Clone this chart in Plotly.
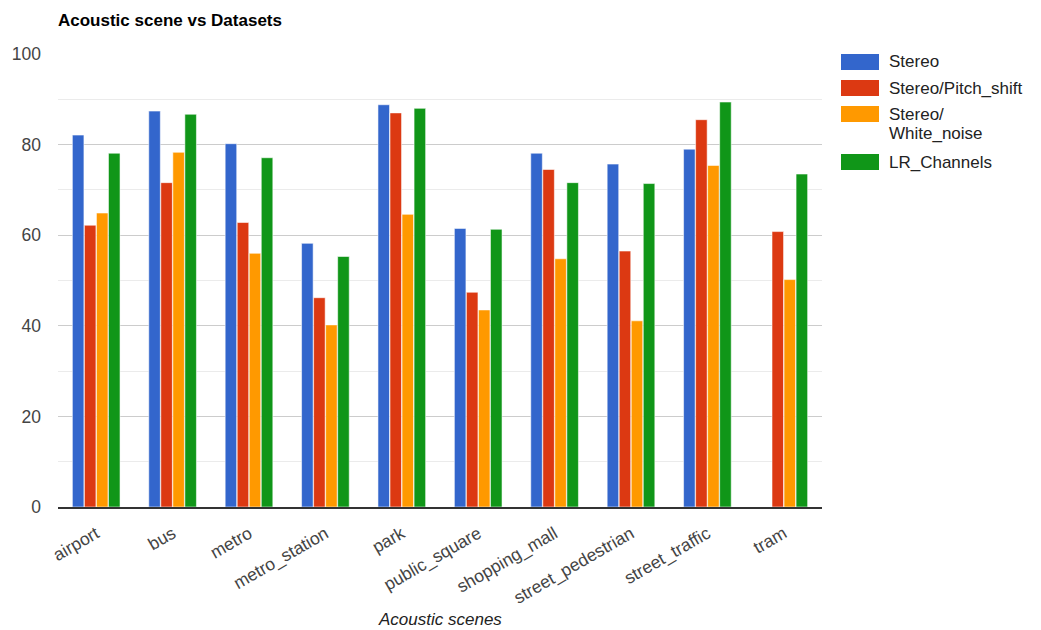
import plotly.graph_objects as go

# Accuracy (%) per acoustic scene for each dataset variant
scenes = ["airport", "bus", "metro", "metro_station", "park", "public_square",
          "shopping_mall", "street_pedestrian", "street_traffic", "tram"]
stereo = [82.1, 87.4, 80.2, 58.2, 88.8, 61.5, 78.1, 75.7, 79.0, None]
pitch_shift = [62.2, 71.6, 62.8, 46.2, 87.0, 47.4, 74.5, 56.5, 85.5, 60.8]
white_noise = [64.9, 78.3, 56.0, 40.2, 64.6, 43.5, 54.8, 41.1, 75.4, 50.2]
lr_channels = [78.1, 86.7, 77.1, 55.3, 88.0, 61.3, 71.6, 71.4, 89.4, 73.5]

series_names = ["Stereo", "Stereo/Pitch_shift", "Stereo/White_noise", "LR_Channels"]
legend_lines = [["Stereo"], ["Stereo/Pitch_shift"], ["Stereo/", "White_noise"], ["LR_Channels"]]
colors = ["#3366cc", "#dc3912", "#ff9900", "#109618"]
series_values = [stereo, pitch_shift, white_noise, lr_channels]

W, H = 1041, 630
L, R, T, B = 58, 822, 54, 507  # plot area in pixels

def px_x(px):
    return (px - L) / (R - L)

def px_y(py):
    return (B - py) / (B - T)

FONT = "Liberation Sans, Arial, sans-serif"

fig = go.Figure()
for name, vals, col in zip(series_names, series_values, colors):
    fig.add_trace(go.Bar(
        x=scenes, y=vals, name=name,
        marker=dict(color=col, line=dict(color="rgba(255,255,255,0.55)", width=1)),
        showlegend=False,
    ))

# Custom legend: wide swatches with labels on the right
shapes = []
annotations = []
swatch_tops = [54, 80, 106, 154]
for lines, col, top in zip(legend_lines, colors, swatch_tops):
    shapes.append(dict(type="rect", xref="paper", yref="paper",
                       x0=px_x(841), x1=px_x(879), y0=px_y(top + 16), y1=px_y(top),
                       fillcolor=col, line=dict(width=0)))
    for i, txt in enumerate(lines):
        annotations.append(dict(xref="paper", yref="paper", x=px_x(887),
                                y=px_y(top + 8 + i * 19), text=txt, showarrow=False,
                                xanchor="left", yanchor="middle",
                                font=dict(family=FONT, size=17, color="#222222")))

annotations.append(dict(xref="paper", yref="paper", x=0.5, y=px_y(619),
                        text="<i>Acoustic scenes</i>", showarrow=False,
                        xanchor="center", yanchor="middle",
                        font=dict(family=FONT, size=17, color="#222222")))

fig.update_layout(
    width=W, height=H,
    margin=dict(l=L, r=W - R, t=T, b=H - B, autoexpand=False),
    paper_bgcolor="white", plot_bgcolor="white",
    barmode="group", bargap=0.37, bargroupgap=0.04,
    title=dict(text="<b>Acoustic scene vs Datasets</b>", x=L / W,
               xanchor="left", y=1 - 20 / H, yanchor="middle",
               font=dict(family=FONT, size=17, color="#000000")),
    shapes=shapes, annotations=annotations,
    showlegend=False,
)
fig.update_xaxes(
    showgrid=False, showline=True, linecolor="#333333", linewidth=1.5,
    tickangle=-30, ticks="", ticklabelstandoff=8,
    tickfont=dict(family=FONT, size=17.5, color="#444444"),
)
fig.update_yaxes(
    range=[0, 100], dtick=20, showgrid=True, gridcolor="#cccccc", gridwidth=1,
    minor=dict(dtick=10, showgrid=True, gridcolor="#ebebeb", gridwidth=1),
    zeroline=False, ticks="", ticklabelstandoff=16,
    tickfont=dict(family=FONT, size=17.5, color="#444444"),
)

fig.write_html("out.html")
